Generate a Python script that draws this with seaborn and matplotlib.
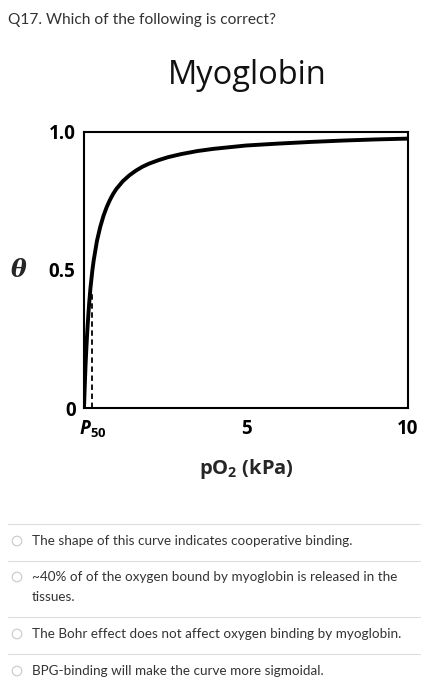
import matplotlib
matplotlib.use("Agg")
import matplotlib.pyplot as plt
import seaborn as sns
import pandas as pd
from matplotlib.patches import Circle

# ---- data ----
po2_kpa = [0, 0.01, 0.03, 0.05, 0.075, 0.1, 0.13, 0.16, 0.2, 0.26, 0.3, 0.4,
           0.5, 0.6, 0.7, 0.8, 0.9, 1.0, 1.2, 1.4, 1.6, 1.8, 2.0, 2.3, 2.6,
           3.0, 3.5, 4.0, 4.5, 5.0, 6.0, 7.0, 8.0, 9.0, 10.0]
theta = [0, 0.035, 0.10, 0.16, 0.22, 0.275, 0.33, 0.38, 0.435, 0.50, 0.535, 0.605,
         0.655, 0.695, 0.727, 0.753, 0.775, 0.793, 0.821, 0.842, 0.859, 0.873, 0.884, 0.897, 0.908,
         0.919, 0.93, 0.938, 0.944, 0.95, 0.957, 0.963, 0.968, 0.972, 0.975]
p50 = 0.26
p50_line_top = 0.42
y_ticks = [0, 0.5, 1.0]
y_tick_labels = ["0", "0.5", "1.0"]
x_ticks = [p50, 5, 10]
x_tick_labels = [r"$\mathbfit{P}_{\mathbf{50}}$", "5", "10"]

question = "Q17. Which of the following is correct?"
chart_title = "Myoglobin"
options = [
    "The shape of this curve indicates cooperative binding.",
    "~40% of of the oxygen bound by myoglobin is released in the\ntissues.",
    "The Bohr effect does not affect oxygen binding by myoglobin.",
    "BPG-binding will make the curve more sigmoidal.",
]

sns.set_style("white")
plt.rcParams["font.family"] = ["Lato", "DejaVu Sans"]
plt.rcParams["mathtext.fontset"] = "custom"
plt.rcParams["mathtext.bf"] = "Open Sans:bold"
plt.rcParams["mathtext.bfit"] = "Open Sans:bold:italic"

W, H = 428, 700
fig = plt.figure(figsize=(W / 100, H / 100), dpi=100)

# background page layer in pixel coordinates
bg = fig.add_axes([0, 0, 1, 1])
bg.set_xlim(0, W)
bg.set_ylim(H, 0)
bg.axis("off")

txt = "#333333"
bg.text(8, 20, question, fontsize=11.2, color=txt, va="center", ha="left")
bg.text(247, 75, chart_title, fontsize=23.5, color="#111111", va="center",
        ha="center", family=["Open Sans", "DejaVu Sans"])

sep_y = [524, 561, 617, 654]
opt_y = [541, 577, 634, 671]
for yy in sep_y:
    bg.plot([8, 420], [yy, yy], color="#dddddd", lw=0.8)
for yy, lab in zip(opt_y, options):
    bg.add_patch(Circle((17, yy), 4.8, fill=False, ec="#c8c8c8", lw=0.8))
    lines = lab.split("\n")
    for k, ln in enumerate(lines):
        bg.text(32, yy + 20 * k, ln, fontsize=9.7, color=txt, va="center", ha="left")

# chart axes
ax = fig.add_axes([84 / W, 1 - 408 / H, (408 - 84) / W, (408 - 131.7) / H])
df = pd.DataFrame({"pO2": po2_kpa, "theta": theta})
sns.lineplot(data=df, x="pO2", y="theta", ax=ax, color="black", lw=2.8,
             solid_capstyle="butt")
ax.plot([p50, p50], [0, p50_line_top], ls=(0, (3, 2)), color="black", lw=1.3)
ax.set_xlim(0, 10)
ax.set_ylim(0, 1)
for s in ax.spines.values():
    s.set_visible(True)
    s.set_color("black")
    s.set_linewidth(1.5)

fp = dict(fontsize=13.5, fontweight="bold", family=["Open Sans", "DejaVu Sans"])
ax.set_yticks(y_ticks)
ax.set_yticklabels(y_tick_labels, **fp)
ax.set_xticks(x_ticks)
ax.set_xticklabels(x_tick_labels, **fp)
ax.tick_params(axis="y", direction="inout", length=10, width=1.3, pad=1, colors="black")
ax.tick_params(axis="x", direction="in", length=7, width=1.3, pad=8, colors="black")
ax.xaxis.get_major_ticks()[0].tick1line.set_visible(False)
ax.xaxis.get_major_ticks()[2].tick1line.set_visible(False)
ax.yaxis.get_major_ticks()[0].tick1line.set_visible(False)

ax.set_xlabel(r"pO$_\mathbf{2}$ (kPa)", fontsize=14.5, fontweight="bold",
              family=["Open Sans", "DejaVu Sans"], labelpad=12)
ax.set_ylabel("θ", fontsize=17, rotation=0, fontweight="bold", fontstyle="italic",
              family=["DejaVu Serif"], va="center", ha="center")
ax.yaxis.set_label_coords(-0.2, 0.5)

fig.savefig("out.png", dpi=100)
